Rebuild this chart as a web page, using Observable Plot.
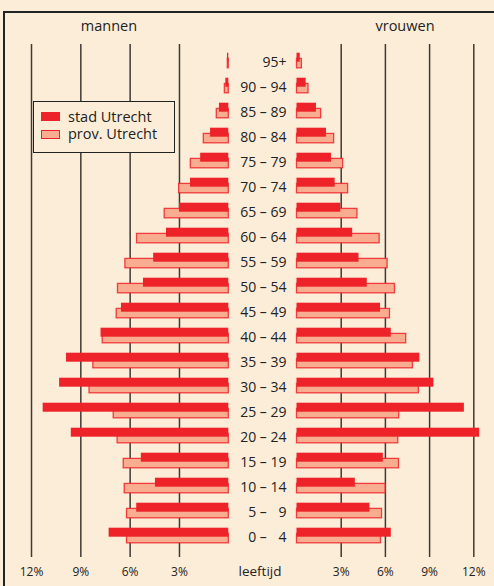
<!DOCTYPE html>
<html>
<head>
<meta charset="utf-8">
<script src="https://cdn.jsdelivr.net/npm/d3@7"></script>
<script src="https://cdn.jsdelivr.net/npm/@observablehq/plot@0.6"></script>
<style>
html, body { margin: 0; padding: 0; background: #fcedd8; overflow: hidden; }
#wrap { position: relative; width: 494px; height: 586px; font-family: "Open Sans", sans-serif; color: #222; }
#frame { position: absolute; left: 3px; top: 11px; width: 600px; height: 700px; border-left: 2px solid #222; border-top: 2px solid #222; box-sizing: border-box; }
.layer { position: absolute; left: 0; top: 0; }
.lbl { position: absolute; height: 20px; line-height: 20px; white-space: nowrap; }
#legend { position: absolute; left: 33px; top: 101px; width: 142px; height: 52px; border: 1.5px solid #222; box-sizing: border-box; background: #fcedd8; }
#legend .sw { position: absolute; left: 6.5px; width: 19px; height: 9px; box-sizing: border-box; }
#legend .txt { position: absolute; left: 34px; height: 20px; line-height: 20px; font-size: 14.5px; white-space: nowrap; }
</style>
</head>
<body>
<div id="wrap">
  <div id="frame"></div>
  <div id="left" class="layer"></div>
  <div id="right" class="layer"></div>
  <div class="lbl" style="left:0;width:218px;top:15.5px;text-align:center;font-size:14.5px;">mannen</div>
  <div class="lbl" style="left:340px;width:130px;top:15.5px;text-align:center;font-size:14.5px;">vrouwen</div>
  <div class="lbl" style="left:210px;width:100px;top:560.5px;text-align:center;font-size:13.5px;">leeftijd</div>
  <div id="legend"></div>
</div>
<script>
// Age groups, bottom (youngest) to top (oldest)
const ages = ["0 – \u20074", "5 – \u20079", "10 – 14", "15 – 19", "20 – 24", "25 – 29", "30 – 34", "35 – 39", "40 – 44", "45 – 49", "50 – 54", "55 – 59", "60 – 64", "65 – 69", "70 – 74", "75 – 79", "80 – 84", "85 – 89", "90 – 94", "95+"];

// Percentages per age group (mannen = men, vrouwen = women)
const mannenStad = [7.28, 5.60, 4.46, 5.32, 9.58, 11.29, 10.29, 9.87, 7.77, 6.53, 5.19, 4.57, 3.79, 3.00, 2.33, 1.71, 1.11, 0.57, 0.18, 0.08];
const mannenProv = [6.19, 6.19, 6.33, 6.39, 6.76, 7.00, 8.47, 8.24, 7.67, 6.82, 6.74, 6.29, 5.58, 3.90, 3.02, 2.31, 1.52, 0.73, 0.24, 0.06];
const vrouwenStad = [6.40, 4.95, 3.96, 5.86, 12.40, 11.36, 9.29, 8.34, 6.40, 5.67, 4.77, 4.21, 3.78, 2.97, 2.59, 2.34, 2.00, 1.32, 0.62, 0.22];
const vrouwenProv = [5.70, 5.77, 6.01, 6.92, 6.87, 6.94, 8.27, 7.87, 7.41, 6.31, 6.65, 6.15, 5.61, 4.10, 3.47, 3.13, 2.52, 1.64, 0.78, 0.33];

const tickValues = [3, 6, 9, 12];
const seriesNames = ["stad Utrecht", "prov. Utrecht"];
const stadColor = "#ee2229";
const provColor = "#f9ad90";

const rows = ages.map((age, i) => ({
  age,
  mannenStad: mannenStad[i], mannenProv: mannenProv[i],
  vrouwenStad: vrouwenStad[i], vrouwenProv: vrouwenProv[i]
}));
const order = ages.slice().reverse();

function side(stadKey, provKey, xRange, withLabels) {
  return Plot.plot({
    width: 494,
    height: 586,
    marginTop: 44,
    marginBottom: 29,
    marginLeft: withLabels ? 286 : 0,
    marginRight: 0,
    style: { background: "transparent", fontFamily: "'Open Sans', sans-serif", color: "#222", overflow: "visible" },
    x: { domain: [0, 12], range: xRange, axis: null },
    y: { domain: order, range: [47, 553.6], padding: 0, axis: null },
    marks: [
      Plot.ruleX(tickValues, { stroke: "#3f3a36", strokeWidth: 1.5 }),
      Plot.axisX(tickValues, { anchor: "bottom", tickSize: 0, tickPadding: 10, tickFormat: d => d + "%", fontSize: 12, label: null }),
      Plot.barX(rows, { y: "age", x: provKey, fill: provColor, stroke: stadColor, strokeOpacity: 0.85, strokeWidth: 1.3, insetTop: 8.4, insetBottom: 7.2 }),
      Plot.barX(rows, { y: "age", x: stadKey, fill: stadColor, insetTop: 2.7, insetBottom: 13.3 }),
      withLabels ? Plot.axisY({ anchor: "left", tickSize: 0, tickPadding: 0, textAnchor: "end", fontSize: 14, label: null }) : null
    ]
  });
}

document.getElementById("left").appendChild(side("mannenStad", "mannenProv", [228.3, 31], false));
document.getElementById("right").appendChild(side("vrouwenStad", "vrouwenProv", [296.5, 473.3], true));

// Legend
const legend = document.getElementById("legend");
seriesNames.forEach((name, i) => {
  const top = i === 0 ? 10.2 : 27.5;
  const sw = document.createElement("div");
  sw.className = "sw";
  sw.style.top = top + "px";
  sw.style.background = i === 0 ? stadColor : provColor;
  if (i === 1) sw.style.border = "1.3px solid " + stadColor;
  legend.appendChild(sw);
  const t = document.createElement("div");
  t.className = "txt";
  t.style.top = (top + 4.5 - 10) + "px";
  t.textContent = name;
  legend.appendChild(t);
});
</script>
</body>
</html>
